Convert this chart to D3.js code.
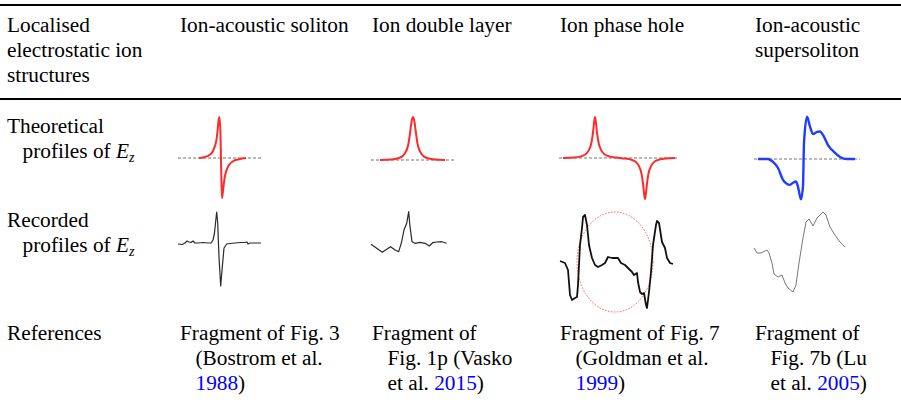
<html>
  <head>
    <meta charset="utf-8">
    <style>body{margin:0;background:#fff;} svg text{font-family:"Liberation Serif","DejaVu Serif",serif;font-size:21.3px;}</style>
  </head>
<body>
<script src="https://cdn.jsdelivr.net/npm/d3@7/dist/d3.min.js"></script>
<script>
	var width = 901;
	var height = 405;

	// table text
	var colX = [7, 180, 372, 560, 755];
	var headerLines = [["Localised", "electrostatic ion", "structures"], ["Ion-acoustic soliton"], ["Ion double layer"], ["Ion phase hole"], ["Ion-acoustic", "supersoliton"]];
	var rowLabels = ["Theoretical", "Recorded"];
	var refLine1 = ["Fragment of Fig. 3", "Fragment of", "Fragment of Fig. 7", "Fragment of"];
	var refLine2 = ["(Bostrom et al.", "Fig. 1p (Vasko", "(Goldman et al.", "Fig. 7b (Lu"];
	var refLine3Pre = ["", "et al. ", "", "et al. "];
	var refYears = ["1988", "2015", "1999", "2005"];

	// theoretical profiles of Ez (t in a.u., Ez normalised)
	var solitonT = [0, 5, 9, 12, 14, 16, 17.5, 18.5, 19.5, 20.5, 21.5, 22.3, 23, 24, 25.5, 27.5, 30, 34, 40, 47];
	var solitonE = [0, 0.02, 0.05, 0.1, 0.17, 0.3, 0.45, 0.65, 0.9, 1.0, 0.55, -0.4, -0.98, -0.8, -0.5, -0.3, -0.17, -0.08, -0.03, 0];
	var doubleT = [0, 11, 18, 23, 26, 28, 29, 30, 31, 32, 33, 34, 35, 36, 37, 38, 40, 43, 48, 55, 65];
	var doubleE = [0, 0.01, 0.04, 0.1, 0.2, 0.33, 0.45, 0.62, 0.8, 0.95, 1, 0.95, 0.8, 0.62, 0.45, 0.33, 0.2, 0.1, 0.04, 0.01, 0];
	var holeT = [0, 11, 18, 23, 26, 28, 29, 30, 31, 32, 33, 34, 35, 36, 38, 41, 46, 53, 57, 61, 68, 73, 76, 78, 79, 80, 81, 82, 83, 84, 85, 86, 88, 91, 96, 103, 112];
	var holeE = [0, 0.01, 0.04, 0.1, 0.2, 0.33, 0.45, 0.62, 0.85, 1, 0.85, 0.62, 0.45, 0.33, 0.2, 0.1, 0.04, 0.01, 0, -0.01, -0.04, -0.1, -0.2, -0.33, -0.45, -0.62, -0.85, -1, -0.85, -0.62, -0.45, -0.33, -0.2, -0.1, -0.04, -0.01, 0];
	var superT = [0, 10, 15, 20, 25, 29, 32, 35, 38, 40, 43, 45, 46, 49, 52, 55, 59, 62, 65, 70, 77, 82, 89, 97];
	var superE = [0, 0, -0.07, -0.22, -0.51, -0.61, -0.63, -0.58, -0.55, -0.68, -0.98, -0.66, 0.39, 1.03, 0.79, 0.61, 0.66, 0.67, 0.59, 0.34, 0.15, 0.05, 0, 0];

	// recorded profiles of Ez (a.u.)
	var recSolT = [0, 4, 7, 9, 11, 13, 15, 17, 20, 25, 30, 33, 35, 36.5, 37.5, 38.7, 39.7, 41, 42.7, 44.3, 46, 48.7, 52, 57, 62, 67, 69, 70, 72, 77, 83];
	var recSolE = [-1, -1.5, 0, 2, 1, 0.5, 2, 0, 0, 0.5, 0, 0, 3, 10, 20, 31, 20, -14, -43, -24, -5, -1, -0.5, 0, 0.5, 0.5, 1, -1, 0, 0, 0];
	var recDlT = [0, 5.7, 11.3, 15.7, 19.7, 24, 27.7, 30.7, 33, 35.7, 37.7, 39, 41, 44, 49, 54, 58.3, 61.7, 65.7, 70.7, 75.7];
	var recDlE = [-0.3, -4.3, -8.3, -5.3, -2.7, -6, -7.7, 2.3, 14, 20.7, 32.3, 17.3, 2.3, 0.7, 1.7, 0.7, -2, 1.3, 2, 2.3, 0.7];
	var recHoleT = [0, 5, 8, 10, 12, 15, 17, 18, 20, 22, 23, 25, 27, 29, 32, 35, 38, 42, 45, 48, 52, 55, 58, 61, 65, 68, 72, 74, 77, 78, 80, 82, 84, 86, 87, 89, 91, 93, 96, 97, 99, 102, 105, 107, 110, 113];
	var recHoleE = [1, -1, -8, -33, -38, -36, -35, -23, 17, 34, 45, 47, 37, 17, 4, -3, -5, -3, -1, 5, 4, 4, 4, -1, -3, -6, -10, -13, -11, -20, -30, -32, -31, -43, -46, -30, -10, 17, 37, 41, 39, 20, 14, 4, -1, -2];
	var recSupT = [0, 3, 7, 13, 15, 18, 20, 24, 28, 31, 34, 39, 42, 45, 49, 52, 55, 59, 63, 66, 69, 72, 76, 81, 86, 91];
	var recSupE = [2, -3, -3, 0, -3, -13, -24, -27, -25, -33, -38, -42, -35, -13, 12, 28, 31, 24, 32, 35, 38, 35, 23, 15, 8, 3];

	var svg = d3.select('body')
		.append("svg")
		.attr("width", width)
		.attr("height", height);

	// rules
	svg.append("rect").attr("x", 0).attr("y", 4).attr("width", width).attr("height", 2).attr("fill", "#000");
	svg.append("rect").attr("x", 0).attr("y", 98).attr("width", width).attr("height", 2).attr("fill", "#000");

	// header
	headerLines.forEach(function(lines, c) {
		lines.forEach(function(s, i) {
			svg.append("text").attr("x", colX[c]).attr("y", 31.5 + i * 25).text(s);
		});
	});

	// row labels
	var rowBase = [133, 226.5];
	rowLabels.forEach(function(s, i) {
		svg.append("text").attr("x", colX[0]).attr("y", rowBase[i]).text(s);
		var t = svg.append("text").attr("x", colX[0] + 15.5).attr("y", rowBase[i] + 25);
		t.append("tspan").text("profiles of ");
		t.append("tspan").style("font-style", "italic").text("E");
		t.append("tspan").style("font-style", "italic").style("font-size", "14px").attr("dy", 4).text("z");
	});

	// references
	svg.append("text").attr("x", colX[0]).attr("y", 340).text("References");
	refYears.forEach(function(yr, i) {
		var x = colX[i + 1];
		svg.append("text").attr("x", x).attr("y", 340).text(refLine1[i]);
		svg.append("text").attr("x", x + 15.5).attr("y", 365).text(refLine2[i]);
		var t = svg.append("text").attr("x", x + 15.5).attr("y", 390);
		t.append("tspan").text(refLine3Pre[i]);
		t.append("tspan").attr("fill", "#0000ff").text(yr);
		t.append("tspan").text(")");
	});

	// profile panels
	var panels = [
		{t: solitonT, e: solitonE, x0: 199, w: 47, base: 158, amp: 41, dom: 1, dash: [178, 262], color: "#ff2a2a", sw: 2},
		{t: doubleT, e: doubleE, x0: 380, w: 65, base: 160, amp: 43, dom: 1, dash: [371, 454], color: "#ff2a2a", sw: 2},
		{t: holeT, e: holeE, x0: 563, w: 112, base: 158, amp: 41, dom: 1, dash: [559, 679], color: "#ff2a2a", sw: 2},
		{t: superT, e: superE, x0: 758, w: 97, base: 159, amp: 41, dom: 1, dash: [754, 860], color: "#1f3cff", sw: 2.4},
		{t: recSolT, e: recSolE, x0: 178, w: 83, base: 243, amp: 50, dom: 50, color: "#2a2a2a", sw: 1.2},
		{t: recDlT, e: recDlE, x0: 371, w: 75.7, base: 244, amp: 50, dom: 50, color: "#2a2a2a", sw: 1.2},
		{t: recHoleT, e: recHoleE, x0: 560, w: 113, base: 262, amp: 50, dom: 50, color: "#111", sw: 1.8, ellipse: {t: 55, e: 0, rt: 38, re: 50}},
		{t: recSupT, e: recSupE, x0: 754, w: 91, base: 250, amp: 50, dom: 50, color: "#777", sw: 1}
	];

	panels.forEach(function(p) {
		var x = d3.scaleLinear().domain([0, d3.max(p.t)]).range([p.x0, p.x0 + p.w]);
		var y = d3.scaleLinear().domain([-p.dom, p.dom]).range([p.base + p.amp, p.base - p.amp]);
		var pts = p.t.map(function(d, i) { return [d, p.e[i]]; });
		if (p.dash) {
			svg.append("line")
				.attr("x1", p.dash[0]).attr("x2", p.dash[1])
				.attr("y1", y(0)).attr("y2", y(0))
				.attr("stroke", "#777").attr("stroke-width", 1.2)
				.attr("stroke-dasharray", "3,2");
		}
		if (p.ellipse) {
			svg.append("ellipse")
				.attr("cx", x(p.ellipse.t)).attr("cy", y(p.ellipse.e))
				.attr("rx", x(p.ellipse.rt) - x(0)).attr("ry", y(0) - y(p.ellipse.re))
				.attr("fill", "none").attr("stroke", "#ff5555").attr("stroke-width", 1)
				.attr("stroke-dasharray", "1.5,1.5");
		}
		var line = d3.line()
			.x(function(d) { return x(d[0]); })
			.y(function(d) { return y(d[1]); })
			.curve(p.dom === 1 ? d3.curveMonotoneX : d3.curveLinear);
		svg.append("path")
			.attr("d", line(pts))
			.attr("fill", "none")
			.attr("stroke", p.color)
			.attr("stroke-width", p.sw)
			.attr("stroke-linejoin", "round");
	});
</script>
</body>
</html>
